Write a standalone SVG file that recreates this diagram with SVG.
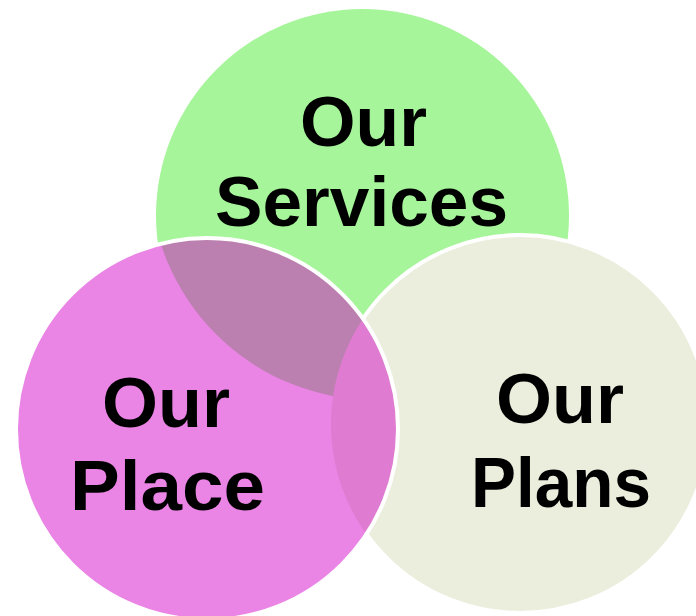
<svg xmlns="http://www.w3.org/2000/svg" width="696" height="616" viewBox="0 0 696 616">
  <style>
    .lbl { font-family: "Liberation Sans", "DejaVu Sans", Arial, sans-serif; font-weight: bold; font-size: 71px; fill: #000000; }
    .edge { fill: none; stroke: #FFFFFF; stroke-width: 4; }
  </style>
  <defs>
    <clipPath id="clipPink">
      <circle cx="207" cy="429" r="191"/>
    </clipPath>
  </defs>
  <rect x="0" y="0" width="696" height="616" fill="#FFFFFF"/>

  <g id="node-services">
    <circle cx="362.5" cy="215.5" r="206.5" fill="#A6F59A"/>
  </g>

  <g id="node-plans">
    <circle cx="520" cy="424" r="189" fill="#EBEEDD" stroke="#FFFFFF" stroke-width="4"/>
  </g>

  <g id="node-place">
    <circle cx="207" cy="429" r="191" fill="#EA84E5"/>
  </g>

  <g id="overlaps" clip-path="url(#clipPink)">
    <circle cx="375" cy="175" r="225" fill="#BB80B0"/>
    <circle cx="520" cy="424" r="189" fill="#DF7BD0"/>
  </g>

  <g id="place-outline">
    <circle class="edge" cx="207" cy="429" r="191"/>
  </g>

  <g id="labels">
    <text class="lbl" x="363.5" y="146" text-anchor="middle" textLength="127" lengthAdjust="spacingAndGlyphs">Our</text>
    <text class="lbl" x="361.5" y="226" text-anchor="middle" textLength="293" lengthAdjust="spacingAndGlyphs">Services</text>
    <text class="lbl" x="166" y="427" text-anchor="middle" textLength="128" lengthAdjust="spacingAndGlyphs">Our</text>
    <text class="lbl" x="167.5" y="510" text-anchor="middle" textLength="195" lengthAdjust="spacingAndGlyphs">Place</text>
    <text class="lbl" x="560" y="423" text-anchor="middle" textLength="128" lengthAdjust="spacingAndGlyphs">Our</text>
    <text class="lbl" x="561" y="507" text-anchor="middle" textLength="180" lengthAdjust="spacingAndGlyphs">Plans</text>
  </g>
</svg>
